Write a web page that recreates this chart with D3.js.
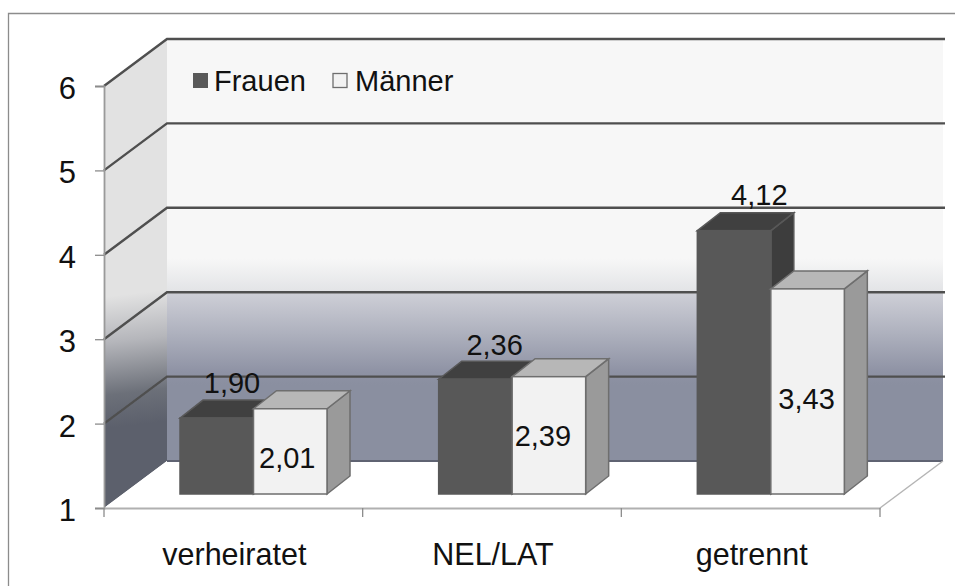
<!DOCTYPE html>
<html>
<head>
<meta charset="utf-8">
<script src="https://cdn.jsdelivr.net/npm/d3@7"></script>
<style>
  html, body { margin: 0; padding: 0; background: #fff; overflow: hidden; }
  text { font-family: "Liberation Sans", Arial, sans-serif; fill: #111; }
</style>
</head>
<body>
<div id="chart"></div>
<script>
var categories = ["verheiratet", "NEL/LAT", "getrennt"];
var frauen = [1.90, 2.36, 4.12];
var maenner = [2.01, 2.39, 3.43];
var yTicks = [1, 2, 3, 4, 5, 6];
var seriesNames = ["Frauen", "Männer"];

var width = 955, height = 586;
var fmt = function(v) { return v.toFixed(2).replace(".", ","); };

var svg = d3.select("#chart").append("svg")
  .attr("width", width)
  .attr("height", height);

// frame: only top and left are visible in the crop
svg.append("path")
  .attr("d", "M8.5,586V13.5H955")
  .attr("fill", "none")
  .attr("stroke", "#8c8c8c")
  .attr("stroke-width", 1.3);

var xScale = d3.scaleBand().domain(categories).range([104, 880]);
var yScale = d3.scaleLinear().domain([1, 6]).range([508, 86]);

// depth of the 3d box
var depthX = 63, depthY = -47;
// bar placement inside the box
var barW = 73.5, barInsetX = 76, barBase = 494;
var barDx = 23, barDy = -18;
var barScale = function(v) { return barBase - (yScale(1) - yScale(v)); };

var defs = svg.append("defs");
// userSpaceOnUse, a flat horizontal line has no bbox height
defs.append("filter").attr("id", "soft")
  .attr("filterUnits", "userSpaceOnUse")
  .attr("x", 0).attr("y", 0).attr("width", width).attr("height", height)
  .append("feGaussianBlur").attr("stdDeviation", 0.5);

var wallGrad = defs.append("linearGradient").attr("id", "wall")
  .attr("gradientUnits", "userSpaceOnUse")
  .attr("x1", 0).attr("x2", 0)
  .attr("y1", yScale(6) + depthY).attr("y2", yScale(1) + depthY);
[[0.52, "#f7f7f7"], [0.6, "#e2e3e6"], [0.605, "#cdced6"], [0.7, "#adb0bd"], [0.79, "#8e92a4"], [0.82, "#8a8fa0"], [1, "#8a8fa0"]]
  .forEach(function(s) { wallGrad.append("stop").attr("offset", s[0]).attr("stop-color", s[1]); });

var sideGrad = defs.append("linearGradient").attr("id", "side")
  .attr("gradientUnits", "userSpaceOnUse")
  .attr("x1", 120).attr("x2", 135)
  .attr("y1", 295).attr("y2", 425);
[[0, "#e2e2e2"], [0.35, "#b5b6bb"], [0.75, "#6c7079"], [1, "#5c606c"]]
  .forEach(function(s) { sideGrad.append("stop").attr("offset", s[0]).attr("stop-color", s[1]); });

var x0 = xScale.range()[0], x1 = xScale.range()[1];
var yTop = yScale(6), yBot = yScale(1);

// left wall
svg.append("polygon")
  .attr("points", [[x0, yTop], [x0 + depthX, yTop + depthY], [x0 + depthX, yBot + depthY], [x0, yBot]].join(" "))
  .attr("fill", "url(#side)");

// back wall
svg.append("rect")
  .attr("x", x0 + depthX)
  .attr("y", yTop + depthY)
  .attr("width", x1 + depthX - (x0 + depthX))
  .attr("height", yBot - yTop)
  .attr("fill", "url(#wall)");

// gridlines run along the side wall and then across the back
svg.append("g").attr("filter", "url(#soft)").selectAll("path")
  .data(yTicks.slice(1))
  .enter()
  .append("path")
  .attr("d", function(d) {
    var y = yScale(d);
    return "M" + x0 + "," + y + "L" + (x0 + depthX) + "," + (y + depthY) + "H" + (x1 + depthX + 2);
  })
  .attr("fill", "none")
  .attr("stroke", "#4f4f4f")
  .attr("stroke-width", 2.4);

// floor
svg.append("polygon")
  .attr("points", [[x0, yBot], [x0 + depthX, yBot + depthY], [x1 + depthX, yBot + depthY], [x1, yBot]].join(" "))
  .attr("fill", "#fff")
  .attr("stroke", "none");
svg.append("path")
  .attr("filter", "url(#soft)")
  .attr("d", "M" + (x0 + depthX) + "," + (yBot + depthY) + "H" + (x1 + depthX))
  .attr("stroke", "#5f6472")
  .attr("stroke-width", 2.2);
svg.append("path")
  .attr("d", "M" + x1 + "," + yBot + "L" + (x1 + depthX) + "," + (yBot + depthY))
  .attr("stroke", "#b5b5b5")
  .attr("fill", "none")
  .attr("stroke-width", 1.5);

// axes
var yAxis = svg.append("g")
  .attr("transform", "translate(" + x0 + ",0)")
  .call(d3.axisLeft(yScale).tickValues(yTicks).tickSize(9).tickPadding(19).tickFormat(d3.format("d")));
yAxis.selectAll("line").attr("stroke", "#8c8c8c").attr("stroke-width", 1.3);
yAxis.select(".domain").attr("stroke", "#9a9a9a").attr("stroke-width", 1.8);
yAxis.selectAll("text").attr("font-size", 31).attr("dy", "0.4em");

var xAxis = svg.append("g")
  .attr("transform", "translate(0," + yBot + ")")
  .call(d3.axisBottom(xScale).tickSize(0).tickPadding(35));
xAxis.select(".domain").attr("stroke", "#b0b0b0").attr("stroke-width", 2);
xAxis.selectAll("text").attr("font-size", 30.5).attr("dx", 1);
svg.append("g").selectAll("line")
  .data(xScale.domain().concat(["end"]))
  .enter()
  .append("line")
  .attr("x1", function(d, i) { return x0 + i * xScale.step(); })
  .attr("x2", function(d, i) { return x0 + i * xScale.step(); })
  .attr("y1", yBot)
  .attr("y2", yBot + 9)
  .attr("stroke", "#8c8c8c")
  .attr("stroke-width", 1.3);

// one 3d bar: side, top, front
function drawBar(g, x, v, colors) {
  var yv = barScale(v);
  g.append("polygon")
    .attr("points", [[x + barW, yv], [x + barW + barDx, yv + barDy], [x + barW + barDx, barBase + barDy], [x + barW, barBase]].join(" "))
    .attr("fill", colors.side).attr("stroke", colors.line).attr("stroke-width", 1.5);
  g.append("polygon")
    .attr("points", [[x, yv], [x + barDx, yv + barDy], [x + barW + barDx, yv + barDy], [x + barW, yv]].join(" "))
    .attr("fill", colors.top).attr("stroke", colors.line).attr("stroke-width", 1.5);
  g.append("rect")
    .attr("x", x).attr("y", yv)
    .attr("width", barW).attr("height", barBase - yv)
    .attr("fill", colors.front).attr("stroke", colors.line).attr("stroke-width", 1.5);
}

var darkBar = { front: "#595959", top: "#404040", side: "#3c3c3c", line: "#595959" };
var lightBar = { front: "#f2f2f2", top: "#b7b7b7", side: "#9a9a9a", line: "#6e6e6e" };

var bars = svg.append("g").attr("filter", "url(#soft)");
categories.forEach(function(c, i) {
  var x = xScale(c) + barInsetX;
  drawBar(bars, x, frauen[i], darkBar);
  drawBar(bars, x + barW, maenner[i], lightBar);
});

// value labels, the original has them nudged by hand
var frauenLabelDx = [52, 56, 62];
var frauenLabelDy = [-25, -24, -26];
var maennerLabelDx = [-3, -6, -1];
var maennerLabelDy = [17, 11, 18];

svg.append("g").selectAll("text")
  .data(frauen)
  .enter()
  .append("text")
  .attr("x", function(d, i) { return xScale(categories[i]) + barInsetX + frauenLabelDx[i]; })
  .attr("y", function(d, i) { return barScale(d) + frauenLabelDy[i]; })
  .attr("text-anchor", "middle")
  .attr("font-size", 29)
  .text(fmt);

svg.append("g").selectAll("text")
  .data(maenner)
  .enter()
  .append("text")
  .attr("x", function(d, i) { return xScale(categories[i]) + barInsetX + barW * 1.5 + maennerLabelDx[i]; })
  .attr("y", function(d, i) { return (barScale(d) + barBase) / 2 + maennerLabelDy[i]; })
  .attr("text-anchor", "middle")
  .attr("font-size", 29)
  .text(fmt);

// legend
var legend = svg.append("g");
legend.append("rect").attr("x", 193).attr("y", 73).attr("width", 15).attr("height", 15).attr("fill", "#595959");
legend.append("text").attr("x", 214).attr("y", 91).attr("font-size", 29).text(seriesNames[0]);
legend.append("rect").attr("x", 333).attr("y", 73.5).attr("width", 14).attr("height", 14)
  .attr("fill", "#f2f2f2").attr("stroke", "#6e6e6e").attr("stroke-width", 1.3);
legend.append("text").attr("x", 355).attr("y", 91).attr("font-size", 29).text(seriesNames[1]);
</script>
</body>
</html>
